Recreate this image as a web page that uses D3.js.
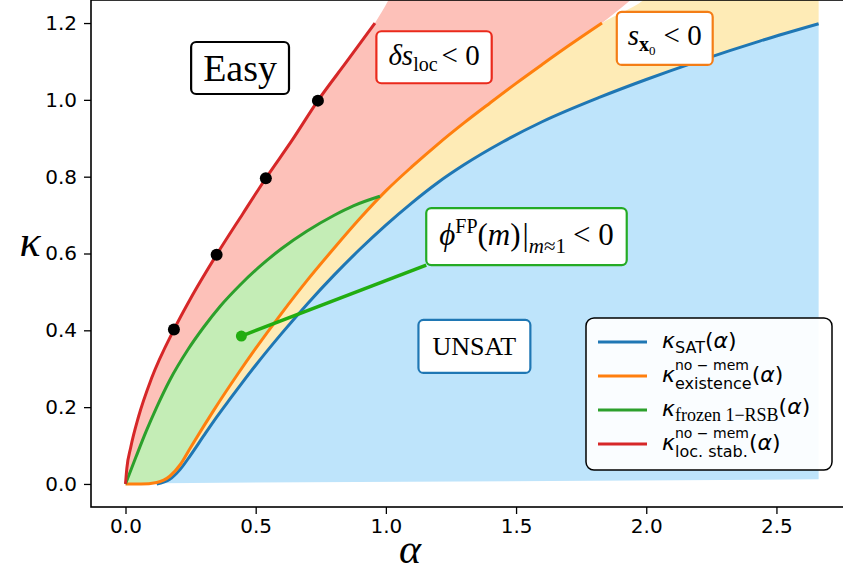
<!DOCTYPE html>
<html>
<head>
<meta charset="utf-8">
<script src="https://cdn.jsdelivr.net/npm/d3@7"></script>
<style>
  html, body { margin: 0; padding: 0; background: #fff; }
  svg { display: block; }
</style>
</head>
<body>
<div id="chart"></div>
<script>
// kappa_SAT(alpha)
const satAlpha = [0.12, 0.17, 0.21, 0.25, 0.3, 0.35, 0.4, 0.45, 0.5, 0.6, 0.7, 0.8, 0.9, 1.0, 1.1, 1.2, 1.3, 1.45, 1.6, 1.822, 2.0, 2.2, 2.436, 2.662]
const satKappa = [0.0, 0.012, 0.038, 0.075, 0.125, 0.174, 0.22, 0.265, 0.309, 0.392, 0.47, 0.543, 0.611, 0.674, 0.732, 0.785, 0.831, 0.891, 0.943, 1.007, 1.053, 1.101, 1.153, 1.198]
// lower edge of the SAT fill
const floorAlpha = [0.12, 2.662]
const floorKappa = [0.002, 0.012]

// kappa existence (no-mem)
const existAlpha = [0, 0.06, 0.12, 0.17, 0.21, 0.25, 0.3, 0.34, 0.43, 0.5, 0.6, 0.7, 0.8, 0.9, 1.0, 1.1, 1.2, 1.3, 1.4, 1.5, 1.6, 1.7, 1.83]
const existKappa = [0, 0.0, 0.004, 0.02, 0.05, 0.095, 0.15, 0.193, 0.285, 0.353, 0.445, 0.532, 0.613, 0.691, 0.763, 0.826, 0.885, 0.94, 0.992, 1.043, 1.092, 1.14, 1.2]
// extension of the existence boundary used by the fills
const existExtPinkAlpha = [1.94, 2.01]
const existExtPinkKappa = [1.26, 1.30]
const existExtYellowAlpha = [1.99, 2.06]
const existExtYellowKappa = [1.26, 1.30]

// kappa frozen 1-RSB
const frozenAlpha = [0, 0.04, 0.08, 0.12, 0.17, 0.24, 0.3, 0.363, 0.44, 0.517, 0.6, 0.696, 0.8, 0.875, 0.977]
const frozenKappa = [0, 0.07, 0.138, 0.2, 0.27, 0.35, 0.408, 0.462, 0.518, 0.567, 0.613, 0.658, 0.699, 0.724, 0.749]

// kappa local stability (no-mem)
const locAlpha = [0, 0.005, 0.02, 0.05, 0.1, 0.186, 0.25, 0.35, 0.45, 0.539, 0.64, 0.739, 0.85, 0.958]
const locKappa = [0, 0.04, 0.095, 0.175, 0.275, 0.402, 0.483, 0.597, 0.703, 0.796, 0.895, 0.998, 1.1, 1.2]
const locExtAlpha = [1.01, 1.04]
const locExtKappa = [1.26, 1.30]
// black markers on the loc. stab. line
const dotAlpha = [0.186, 0.35, 0.539, 0.739]
const dotKappa = [0.402, 0.597, 0.796, 0.998]
// green marker
const frozenMarkAlpha = 0.445
const frozenMarkKappa = 0.385

const xTicks = [0, 0.5, 1.0, 1.5, 2.0, 2.5]
const yTicks = [0, 0.2, 0.4, 0.6, 0.8, 1.0, 1.2]

const legendLabels = ['sat', 'exist', 'frozen', 'loc']

const SERIF = "'Liberation Serif', 'DejaVu Serif', serif"
const SANS = "'DejaVu Sans', sans-serif"

const width = 843
const height = 574
const plot = { left: 91, right: 850, top: 0, bottom: 507 }

const x = d3.scaleLinear().domain([-0.1325, 2.7825]).range([plot.left, plot.right])
const y = d3.scaleLinear().domain([-0.06, 1.26]).range([plot.bottom, plot.top])

const svg = d3.select('#chart')
  .append('svg')
  .attr('width', width)
  .attr('height', height)

svg.append('defs').append('clipPath')
  .attr('id', 'clip')
  .append('rect')
  .attr('x', plot.left)
  .attr('y', plot.top)
  .attr('width', plot.right - plot.left)
  .attr('height', plot.bottom - plot.top)

const zip = (a, b) => a.map((v, i) => [v, b[i]])

const satPts = zip(satAlpha, satKappa)
const floorPts = zip(floorAlpha, floorKappa)
const existPts = zip(existAlpha, existKappa)
const frozenPts = zip(frozenAlpha, frozenKappa)
const locPts = zip(locAlpha, locKappa)

const line = d3.line().x(d => x(d[0])).y(d => y(d[1])).curve(d3.curveMonotoneX)

const area = svg.append('g').attr('clip-path', 'url(#clip)')

// fills: a smooth boundary on top, the other boundary back along the bottom
function fillPath(upper, lower, color) {
  const top = line(upper)
  const bottom = line(lower.slice().reverse())
  area.append('path')
    .attr('d', top + 'L' + bottom.slice(1) + 'Z')
    .attr('fill', color)
}

fillPath(satPts, floorPts, '#bee4fb')

const existUpperYellow = existPts.concat(zip(existExtYellowAlpha, existExtYellowKappa))
  .concat([[satAlpha[satAlpha.length - 1], 1.3]])
fillPath(existUpperYellow, satPts, '#feebb6')

const locUpper = locPts.concat(zip(locExtAlpha, locExtKappa))
const existPink = existPts.concat(zip(existExtPinkAlpha, existExtPinkKappa))
fillPath(locUpper.concat(existPink.slice(-1)), existPink, '#fdc1b9')

const lastFrozen = frozenAlpha[frozenAlpha.length - 1]
fillPath(frozenPts, existPts.filter(d => d[0] < lastFrozen), '#c4edb6')

// curves
const curves = [
  { pts: satPts, color: '#1f77b4' },
  { pts: existPts, color: '#ff7f0e' },
  { pts: frozenPts, color: '#2ca02c' },
  { pts: locPts, color: '#d62728' }
]
curves.forEach(c => {
  area.append('path')
    .attr('d', line(c.pts))
    .attr('fill', 'none')
    .attr('stroke', c.color)
    .attr('stroke-width', 3)
})

area.selectAll('.dot')
  .data(zip(dotAlpha, dotKappa))
  .enter().append('circle')
  .attr('cx', d => x(d[0]))
  .attr('cy', d => y(d[1]))
  .attr('r', 6)
  .attr('fill', '#000')

// axes
const xAxis = svg.append('g')
  .attr('transform', `translate(0,${plot.bottom})`)
  .call(d3.axisBottom(x).tickValues(xTicks).tickFormat(d3.format('.1f')).tickSize(7).tickPadding(5).tickSizeOuter(0))
const yAxis = svg.append('g')
  .attr('transform', `translate(${plot.left},0)`)
  .call(d3.axisLeft(y).tickValues(yTicks).tickFormat(d3.format('.1f')).tickSize(7).tickPadding(7).tickSizeOuter(0))
;[xAxis, yAxis].forEach(a => {
  a.select('.domain').remove()
  a.selectAll('line').attr('stroke', '#000').attr('stroke-width', 1.3)
  a.selectAll('text').style('font-family', SANS).style('font-size', '20px').attr('fill', '#000')
})

svg.append('rect')
  .attr('x', plot.left)
  .attr('y', plot.top)
  .attr('width', plot.right - plot.left)
  .attr('height', plot.bottom - plot.top)
  .attr('fill', 'none')
  .attr('stroke', '#000')
  .attr('stroke-width', 1.6)

svg.append('text')
  .attr('x', 410)
  .attr('y', 563)
  .attr('text-anchor', 'middle')
  .style('font-family', SERIF).style('font-style', 'italic').style('font-size', '42px')
  .text('α')
svg.append('text')
  .attr('x', 30)
  .attr('y', 256)
  .attr('text-anchor', 'middle')
  .style('font-family', SERIF).style('font-style', 'italic').style('font-size', '44px')
  .text('κ')

// math-like text: one <text>, one tspan per run, stacked runs share an x
function addRun(t, px, p) {
  const s = t.append('tspan')
    .attr('x', px)
    .attr('y', p.dy || 0)
    .style('font-family', p.font || SERIF)
    .style('font-size', p.size + 'px')
    .style('font-style', p.it ? 'italic' : 'normal')
    .style('font-weight', p.b ? 'bold' : 'normal')
    .text(p.t)
  return s.node().getComputedTextLength()
}

function mathText(g, parts) {
  const t = g.append('text').attr('fill', '#000')
  let px = 0
  parts.forEach(p => {
    if (p.stack) {
      px += Math.max(...p.stack.map(q => addRun(t, px, q)))
    } else {
      px += addRun(t, px, p) + (p.gap || 0)
    }
  })
  return px
}

function labelBox(cx, cy, parts, color, padX, padY) {
  const g = svg.append('g')
  const inner = g.append('g')
  mathText(inner, parts)
  const bb = inner.node().getBBox()
  const w = bb.width + 2 * padX
  const h = bb.height + 2 * padY
  g.insert('rect', ':first-child')
    .attr('x', bb.x - padX)
    .attr('y', bb.y - padY)
    .attr('width', w)
    .attr('height', h)
    .attr('rx', 5)
    .attr('fill', '#fff')
    .attr('stroke', color)
    .attr('stroke-width', 2.2)
  const tx = cx - (bb.x - padX + w / 2)
  const ty = cy - (bb.y - padY + h / 2)
  g.attr('transform', `translate(${tx},${ty})`)
  return { x0: cx - w / 2, y0: cy - h / 2, x1: cx + w / 2, y1: cy + h / 2 }
}

labelBox(x(0.44), y(1.083), [{ t: 'Easy', size: 38 }], '#000', 12, 5)

labelBox(x(1.185), y(1.111), [
  { t: 'δs', size: 29, it: true },
  { t: 'loc', size: 20, dy: 6, gap: 4 },
  { t: '< 0', size: 29 }
], '#ea2a1c', 12, 8)

labelBox(x(2.071), y(1.16), [
  { t: 's', size: 29, it: true },
  { t: 'x', size: 20, b: true, dy: 6 },
  { t: '0', size: 13, dy: 10, gap: 8 },
  { t: '< 0', size: 29 }
], '#f47d16', 11, 7)

const fpBox = labelBox(x(1.54), y(0.644), [
  { t: 'ϕ', size: 31, it: true },
  { t: 'FP', size: 20, dy: -12 },
  { t: '(', size: 31 },
  { t: 'm', size: 31, it: true },
  { t: ')', size: 31, gap: 2 },
  { t: '|', size: 31 },
  { t: 'm', size: 21, it: true, dy: 8 },
  { t: '≈1', size: 21, dy: 8, gap: 7 },
  { t: '< 0', size: 31 }
], '#25ab25', 13, 7)

labelBox(x(1.34), y(0.358), [{ t: 'UNSAT', size: 26 }], '#1f77b4', 14, 12)

// green pointer
svg.append('line')
  .attr('x1', x(frozenMarkAlpha))
  .attr('y1', y(frozenMarkKappa))
  .attr('x2', fpBox.x0)
  .attr('y2', fpBox.y1)
  .attr('stroke', '#22ad10')
  .attr('stroke-width', 3.5)
svg.append('circle')
  .attr('cx', x(frozenMarkAlpha))
  .attr('cy', y(frozenMarkKappa))
  .attr('r', 5.5)
  .attr('fill', '#22ad10')

// legend
const legend = svg.append('g').attr('transform', 'translate(586,318)')
legend.append('rect')
  .attr('width', 246)
  .attr('height', 152)
  .attr('rx', 8)
  .attr('fill', '#fff')
  .attr('fill-opacity', 0.92)
  .attr('stroke', '#000')
  .attr('stroke-width', 1.5)

const legendParts = {
  sat: [
    { t: 'κ', size: 22, it: true, font: SANS },
    { t: 'SAT', size: 16, dy: 5, font: SANS },
    { t: '(', size: 22, font: SANS },
    { t: 'α', size: 22, it: true, font: SANS },
    { t: ')', size: 22, font: SANS }
  ],
  exist: [
    { t: 'κ', size: 22, it: true, font: SANS },
    { stack: [
      { t: 'no − mem', size: 14, dy: -12, font: SANS },
      { t: 'existence', size: 16, dy: 7, font: SANS }
    ] },
    { t: '(', size: 22, font: SANS },
    { t: 'α', size: 22, it: true, font: SANS },
    { t: ')', size: 22, font: SANS }
  ],
  frozen: [
    { t: 'κ', size: 22, it: true, font: SANS },
    { t: 'frozen 1−RSB', size: 18, dy: 5 },
    { t: '(', size: 22, font: SANS, dy: -2 },
    { t: 'α', size: 22, it: true, font: SANS, dy: -2 },
    { t: ')', size: 22, font: SANS, dy: -2 }
  ],
  loc: [
    { t: 'κ', size: 22, it: true, font: SANS },
    { stack: [
      { t: 'no − mem', size: 14, dy: -12, font: SANS },
      { t: 'loc. stab.', size: 16, dy: 7, font: SANS }
    ] },
    { t: '(', size: 22, font: SANS },
    { t: 'α', size: 22, it: true, font: SANS },
    { t: ')', size: 22, font: SANS }
  ]
}

legendLabels.forEach((key, i) => {
  const rowY = 24 + i * 34
  legend.append('line')
    .attr('x1', 12).attr('x2', 61)
    .attr('y1', rowY).attr('y2', rowY)
    .attr('stroke', curves[i].color)
    .attr('stroke-width', 3)
  const g = legend.append('g').attr('transform', `translate(76,${rowY + 6})`)
  mathText(g, legendParts[key])
})
</script>
</body>
</html>
